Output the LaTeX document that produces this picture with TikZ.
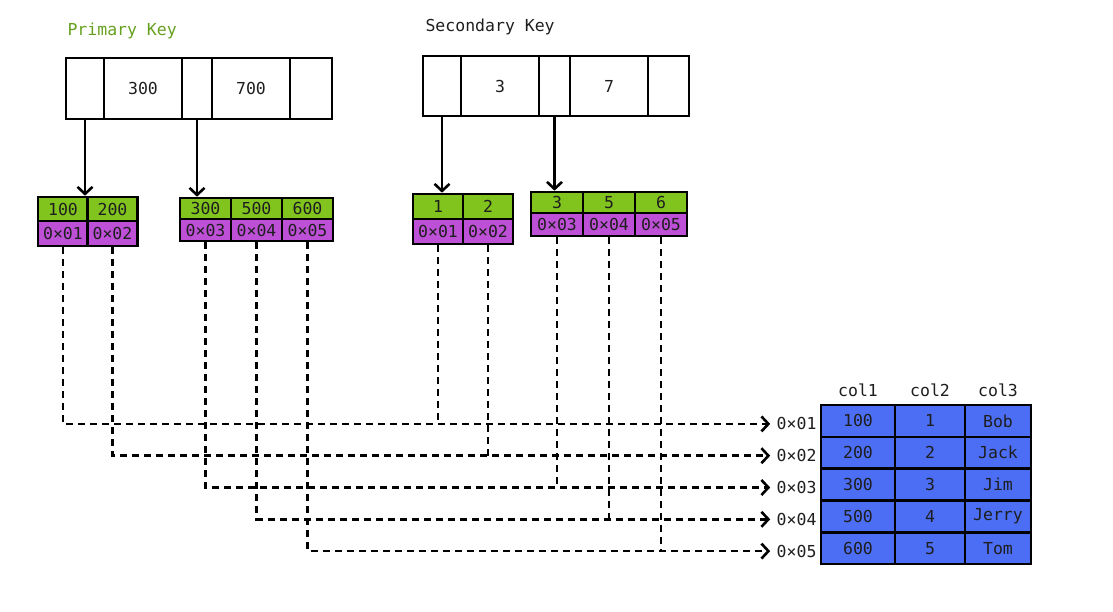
\documentclass[tikz,border=0pt]{standalone}
\usepackage{fontspec}
\setmonofont{DejaVu Sans Mono}
\usetikzlibrary{arrows.meta, positioning}
\definecolor{keygreen}{RGB}{102,160,30}
\definecolor{leafgreen}{RGB}{130,196,30}
\definecolor{leafpurple}{RGB}{190,80,215}
\definecolor{rowblue}{RGB}{76,110,245}
\definecolor{ink}{RGB}{30,30,30}

\begin{document}
\begin{tikzpicture}[x=1pt, y=-1pt,
    font=\ttfamily\fontsize{16.5}{19}\selectfont, text=ink,
    keybox/.style={draw=black, line width=2.8pt, inner sep=0, minimum height=61pt},
    leafcell/.style={draw=black, line width=2.6pt, inner sep=0, minimum width=50pt},
    keycell/.style={leafcell, fill=leafgreen},
    ptrcell/.style={leafcell, fill=leafpurple},
    tcell/.style={draw=black, line width=2.6pt, fill=rowblue, inner sep=0, minimum height=31.8pt},
    tip/.style={-{Straight Barb[length=7pt, width=15pt, line width=2.6pt]}},
    ptr/.style={tip, line width=2.4pt},
    link/.style={tip, line width=2.6pt, dash pattern=on 7pt off 5pt},
    drop/.style={line width=2.6pt, dash pattern=on 7pt off 5pt}]
    \useasboundingbox (0,0) rectangle (1113,611);

    % Index pages
    \node[text=keygreen, anchor=west] (pklabel) at (64,31) {Primary Key};
    \foreach \name/\cx/\w/\txt in {pk0/85/38/{}, pk1/143/78/300, pk2/197/30/{}, pk3/251/78/700, pk4/311/42/{}}
      \node[keybox, minimum width=\w] (\name) at (\cx,88.5) {\txt};

    \node[anchor=west] (sklabel) at (422,27) {Secondary Key};
    \foreach \name/\cx/\w/\txt in {sk0/442/38/{}, sk1/500/78/3, sk2/554.5/31/{}, sk3/609/78/7, sk4/668.5/41/{}}
      \node[keybox, minimum width=\w, minimum height=60pt] (\name) at (\cx,86) {\txt};

    % Leaf pages: key row over pointer row
    \foreach \k/\p [count=\i] in {100/1, 200/2} {
      \node[keycell, minimum height=24pt] (ka\i) at ({63+49.5*(\i-1)},209) {\k};
      \node[ptrcell, minimum height=25pt] (pa\i) at ({63+49.5*(\i-1)},233.5) {0×0\p};
    }
    \foreach \k/\p [count=\i] in {300/3, 500/4, 600/5} {
      \node[keycell, minimum width=51pt, minimum height=21pt] (kb\i) at ({205.5+51*(\i-1)},208.5) {\k};
      \node[ptrcell, minimum width=51pt, minimum height=22pt] (pb\i) at ({205.5+51*(\i-1)},230) {0×0\p};
    }
    \foreach \k/\p [count=\i] in {1/1, 2/2} {
      \node[keycell, minimum height=25pt] (kc\i) at ({438+50*(\i-1)},206.5) {\k};
      \node[ptrcell, minimum height=25pt] (pc\i) at ({438+50*(\i-1)},231.5) {0×0\p};
    }
    \foreach \k/\p [count=\i] in {3/3, 5/4, 6/5} {
      \node[keycell, minimum width=52pt, minimum height=21pt] (kd\i) at ({557+52*(\i-1)},202.5) {\k};
      \node[ptrcell, minimum width=52pt, minimum height=23pt] (pd\i) at ({557+52*(\i-1)},224.5) {0×0\p};
    }

    % Child pointers
    \draw[ptr] (pk0.south) -- (pk0.south |- ka1.north);
    \draw[ptr] (pk2.south) -- (pk2.south |- kb1.north);
    \draw[ptr] (sk0.south) -- (sk0.south |- kc1.north);
    \draw[ptr] (sk2.south) -- (sk2.south |- kd1.north);

    % Row table
    \foreach \a/\b/\c [count=\i] in {100/1/Bob, 200/2/Jack, 300/3/Jim, 500/4/Jerry, 600/5/Tom} {
      \node[tcell, minimum width=74pt] (t\i-1) at (858,{405+31.8*(\i-0.5)}) {\a};
      \node[tcell, minimum width=70pt] (t\i-2) at (930,{405+31.8*(\i-0.5)}) {\b};
      \node[tcell, minimum width=66pt] (t\i-3) at (998,{405+31.8*(\i-0.5)}) {\c};
      \node[anchor=east] (addr\i) at (820,{408+31.8*(\i-0.5)}) {0×0\i};
    }
    \foreach \j in {1,2,3}
      \node[above=3pt of t1-\j] (col\j) {col\j};

    % Row pointers
    \draw[link] (pa1.south) |- ([xshift=-3pt]addr1.west);
    \draw[link] (pa2.south) |- ([xshift=-3pt]addr2.west);
    \draw[link] (pb1.south) |- ([xshift=-3pt]addr3.west);
    \draw[link] (pb2.south) |- ([xshift=-3pt]addr4.west);
    \draw[link] (pb3.south) |- ([xshift=-3pt]addr5.west);
    \draw[drop] (pc1.south) -- (pc1.south |- addr1.west);
    \draw[drop] (pc2.south) -- (pc2.south |- addr2.west);
    \draw[drop] (pd1.south) -- (pd1.south |- addr3.west);
    \draw[drop] (pd2.south) -- (pd2.south |- addr4.west);
    \draw[drop] (pd3.south) -- (pd3.south |- addr5.west);
\end{tikzpicture}
\end{document}
